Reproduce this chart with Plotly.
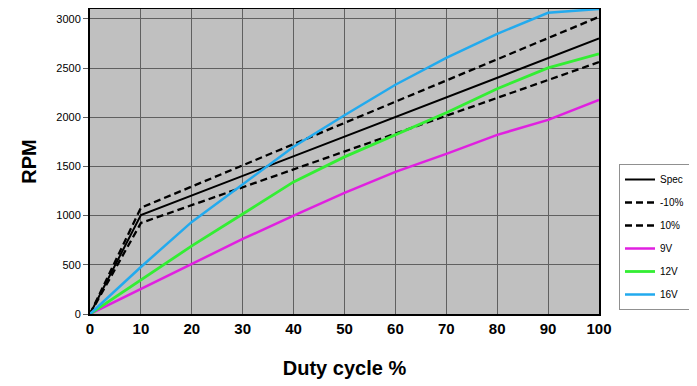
import plotly.graph_objects as go

duty = [0, 10, 20, 30, 40, 50, 60, 70, 80, 90, 100]
spec_x = [0, 10, 100]
spec = [0, 1005, 2800]
minus10 = [0, 1080, 3020]
plus10 = [0, 925, 2560]
v9 = [0, 254, 508, 763, 1000, 1231, 1444, 1627, 1821, 1973, 2177]
v12 = [0, 350, 692, 1017, 1343, 1597, 1821, 2045, 2289, 2502, 2645]
v16 = [0, 478, 936, 1322, 1700, 2020, 2330, 2604, 2848, 3062, 3100]

fig = go.Figure()
fig.add_trace(go.Scatter(x=spec_x, y=spec, name="Spec", mode="lines",
                         line=dict(color="black", width=2)))
fig.add_trace(go.Scatter(x=spec_x, y=minus10, name="-10%", mode="lines",
                         line=dict(color="black", width=2.3, dash="7px,4px")))
fig.add_trace(go.Scatter(x=spec_x, y=plus10, name="10%", mode="lines",
                         line=dict(color="black", width=2.3, dash="7px,4px")))
fig.add_trace(go.Scatter(x=duty, y=v9, name="9V", mode="lines",
                         line=dict(color="#e020e0", width=2.5)))
fig.add_trace(go.Scatter(x=duty, y=v12, name="12V", mode="lines",
                         line=dict(color="#33ee33", width=2.8)))
fig.add_trace(go.Scatter(x=duty, y=v16, name="16V", mode="lines",
                         line=dict(color="#22aaee", width=2.5)))
for i, tr in enumerate(fig.data):
    tr.legendgroup = "g%d" % i

# page body has an 8px margin, so the figure is 8px smaller and shifted
W, H = 689, 378
fig.update_layout(
    width=W, height=H,
    margin=dict(l=82, r=98, t=1, b=72, autoexpand=False),
    paper_bgcolor="white",
    plot_bgcolor="#c0c0c0",
    font=dict(family="Liberation Sans, Arial, sans-serif", color="black"),
    showlegend=True,
    legend=dict(xref="container", yref="container",
                x=(619 - 8) / W, y=1 - (164 - 8) / H, xanchor="left", yanchor="top",
                bgcolor="white", bordercolor="#909090", borderwidth=1,
                font=dict(size=10), tracegroupgap=4, itemwidth=30),
    xaxis=dict(range=[0, 100], dtick=10, tick0=0,
               showgrid=True, gridcolor="#606060", gridwidth=1,
               showline=True, linecolor="black", linewidth=2, mirror=True,
               zeroline=False, ticks="",
               tickprefix="<b>", ticksuffix="</b>",
               tickfont=dict(size=15),
               title=dict(text="<b>Duty cycle %</b>", font=dict(size=20), standoff=25)),
    yaxis=dict(range=[0, 3100], dtick=500, tick0=0,
               showgrid=True, gridcolor="#606060", gridwidth=1,
               showline=True, linecolor="black", linewidth=2, mirror=True,
               zeroline=False, ticks="outside", ticklen=5, tickcolor="#606060",
               tickfont=dict(size=11),
               title=dict(text="<b>RPM</b>", font=dict(size=20), standoff=14)),
)

fig.write_html("out.html")
